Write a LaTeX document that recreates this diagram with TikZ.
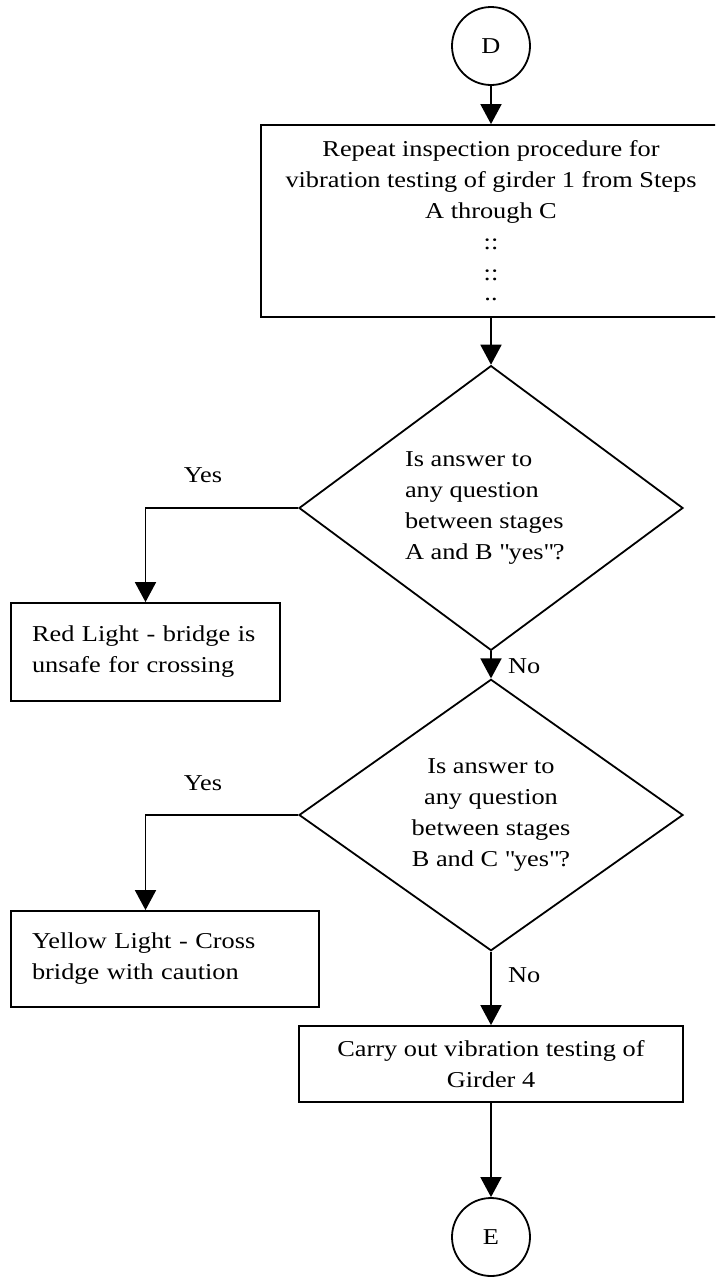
\documentclass[tikz,border=0pt]{standalone}
\usepackage{fontspec}
\setmainfont[FakeStretch=1.16]{Liberation Serif}
\usetikzlibrary{arrows.meta,shapes.geometric}
\begin{document}
\begin{tikzpicture}[x=1pt,y=-1pt,
  every node/.style={font=\fontsize{22.7pt}{31pt}\selectfont},
  outline/.style={draw,line width=1.8pt},
  conn/.style={circle,outline,minimum size=78pt,inner sep=0pt},
  stepbox/.style={rectangle,outline,inner sep=0pt},
  decision/.style={diamond,outline,minimum width=384pt,minimum height=269pt,inner sep=0pt},
  flow/.style={line width=1.8pt,-{Triangle[length=20pt,width=21pt]}},
  tag/.style={inner sep=0pt}
]
\clip (0,0) rectangle (715,1277);

% connectors in and out
\node[conn] (D) at (491,46) {D};
\node[conn] (E) at (491,1237) {E};

% repeated procedure
\node[stepbox,minimum width=460pt,minimum height=192pt,align=center] (box1) at (491,221)
  {Repeat inspection procedure for\\vibration testing of girder 1 from Steps\\A through C\\::\\::\\[-11pt]..};

% decisions
\node[decision,align=left] (d1) at (491,508)
  {Is answer to\\any question\\\makebox[172pt][l]{between stages}\\A and B \textquotedbl yes\textquotedbl ?};
\node[decision,align=center] (d2) at (491,815)
  {Is answer to\\any question\\between stages\\B and C \textquotedbl yes\textquotedbl ?};

% outcomes
\node[stepbox,minimum width=269pt,minimum height=98pt,text width=227pt,align=left] (red) at (145.5,652)
  {Red Light - bridge is\\unsafe for crossing};
\node[stepbox,minimum width=308pt,minimum height=96pt,text width=266pt,align=left] (yellow) at (165,959)
  {Yellow Light - Cross\\bridge with caution};
\node[stepbox,minimum width=384pt,minimum height=76pt,align=center] (carry) at (491,1064)
  {Carry out vibration testing of\\Girder 4};

% branch labels
\node[tag] (yes1) at (203,475) {Yes};
\node[tag] (yes2) at (203,783) {Yes};
\node[tag,anchor=west] (no1) at (508,666) {No};
\node[tag,anchor=west] (no2) at (508,975) {No};

% flow
\draw[flow] (D.south) -- (box1.north);
\draw[flow] (box1.south) -- (d1.north);
\draw[flow] (d1.west) -| (red.north);
\draw[flow] (d1.south) -- (d2.north);
\draw[flow] (d2.west) -| (yellow.north -| red.north);
\draw[flow] (d2.south) -- (carry.north);
\draw[flow] (carry.south) -- (E.north);
\end{tikzpicture}
\end{document}
